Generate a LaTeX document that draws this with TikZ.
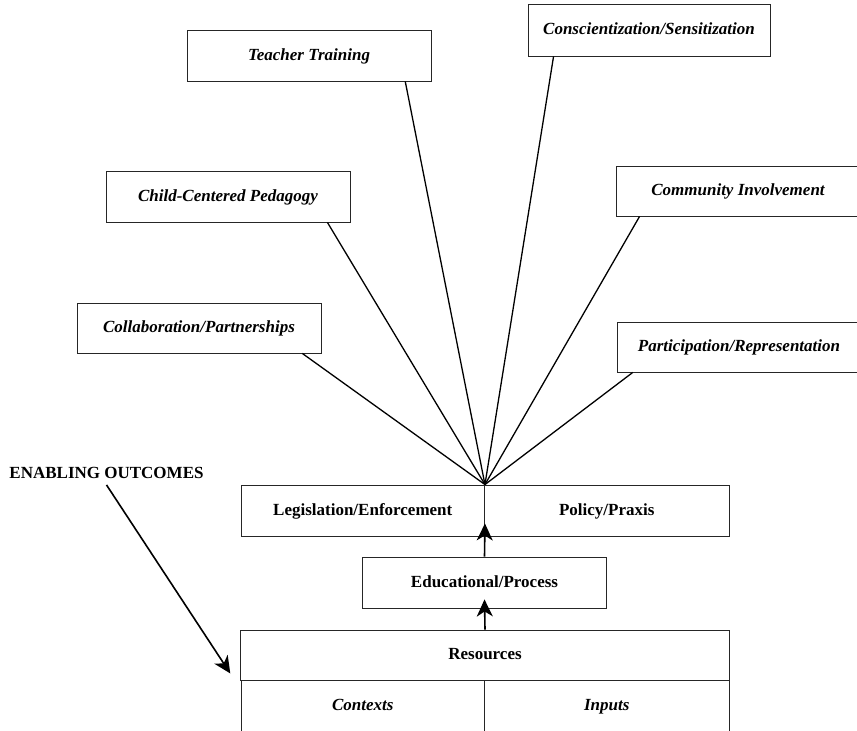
\documentclass[tikz,border=0pt]{standalone}
\usepackage{fontspec}
\setmainfont{Liberation Serif}
\usetikzlibrary{arrows.meta,calc}
\begin{document}
\begin{tikzpicture}[x=1pt,y=-1pt,
  basebox/.style={draw=black!85, line width=0.9pt, rectangle, inner sep=0pt,
    minimum width=244pt, minimum height=51pt, fill=white, text height=12pt, text depth=3pt},
  topbox/.style={basebox, font=\fontsize{17}{20}\selectfont\bfseries\itshape},
  midbox/.style={basebox, font=\fontsize{17}{20}\selectfont\bfseries},
  spoke/.style={line width=1.3pt, black},
  uparrow/.style={line width=1.6pt, black, -{Stealth[length=17pt,width=16pt,inset=5pt]}}
]
\useasboundingbox (0,0) rectangle (857,731);
\clip (0,0) rectangle (857,731);

% upper boxes
\node[topbox] (tt) at (309,55.5) {Teacher Training};
\node[topbox, minimum width=242pt, minimum height=52pt] (cs) at (649,30) {Conscientization/Sensitization};
\node[topbox] (cc) at (228,196.5) {Child-Centered Pedagogy};
\node[topbox, minimum height=50pt] (ci) at (738,191) {Community Involvement};
\node[topbox, minimum height=50pt] (cp) at (199,328) {Collaboration/Partnerships};
\node[topbox, minimum height=50pt] (pr) at (739,347) {Participation/Representation};

% central column
\node[midbox, minimum width=243.5pt] (leg) at (362.75,510.5) {Legislation/Enforcement};
\node[midbox, minimum width=244.5pt] (pol) at (606.75,510.5) {Policy/Praxis};
\node[midbox] (edu) at (484.5,582.5) {Educational/Process};
\node[midbox, minimum width=488.5pt, minimum height=50pt] (res) at (485,655) {Resources};
\node[topbox, minimum width=243.5pt] (ctx) at (362.75,705.5) {Contexts};
\node[topbox, minimum width=244.5pt] (inp) at (606.75,705.5) {Inputs};

\coordinate (hub) at (leg.north east);

% spokes
\draw[spoke] (hub) -- ($(tt.south west)!0.893!(tt.south east)$);
\draw[spoke] (hub) -- ($(cs.south west)!0.107!(cs.south east)$);
\draw[spoke] (hub) -- ($(cc.south west)!0.906!(cc.south east)$);
\draw[spoke] (hub) -- ($(ci.south west)!0.098!(ci.south east)$);
\draw[spoke] (hub) -- ($(cp.south west)!0.922!(cp.south east)$);
\draw[spoke] (hub) -- ($(pr.south west)!0.066!(pr.south east)$);

% upward arrows
\draw[uparrow] (edu.north) -- ($(leg.south east)+(0,-13)$);
\draw[uparrow] (res.north) -- ($(edu.south)+(0,-9)$);

% enabling outcomes
\node[font=\fontsize{17}{20}\selectfont\bfseries, inner sep=6pt] (eo) at (106.5,473) {ENABLING OUTCOMES};
\draw[uparrow] (eo.south) -- ($(res.south west)+(-10,-7)$);
\end{tikzpicture}
\end{document}
